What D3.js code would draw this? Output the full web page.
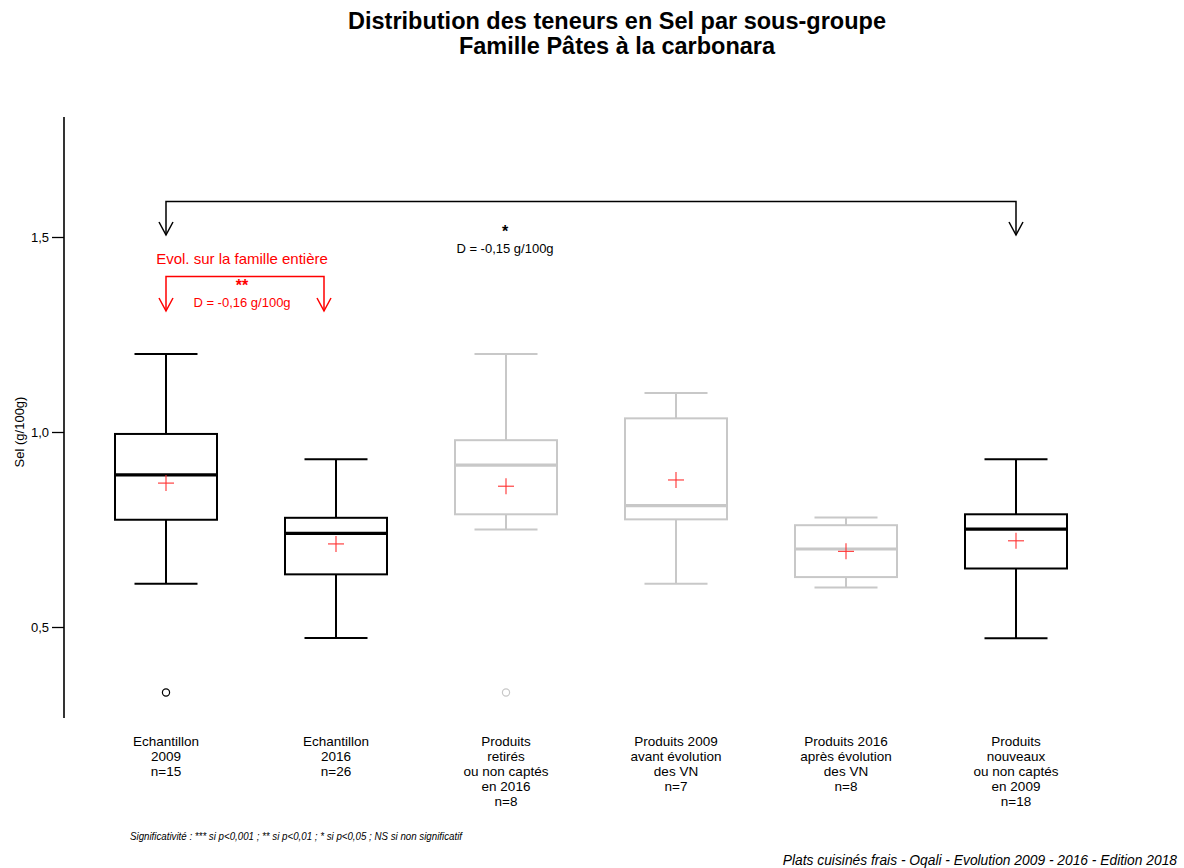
<!DOCTYPE html>
<html><head><meta charset="utf-8">
<script src="https://cdn.jsdelivr.net/npm/d3@7"></script>
<style>body{margin:0;background:#fff;} svg{display:block;font-family:"Liberation Sans",Arial,sans-serif;}</style>
</head><body>
<script>
const categories = [
  ["Echantillon","2009","n=15"],
  ["Echantillon","2016","n=26"],
  ["Produits","retirés","ou non captés","en 2016","n=8"],
  ["Produits 2009","avant évolution","des VN","n=7"],
  ["Produits 2016","après évolution","des VN","n=8"],
  ["Produits","nouveaux","ou non captés","en 2009","n=18"]
];
const whiskerLow  = [0.611, 0.472, 0.750, 0.611, 0.601, 0.471];
const q1          = [0.775, 0.635, 0.789, 0.776, 0.628, 0.650];
const median      = [0.890, 0.740, 0.915, 0.811, 0.700, 0.751];
const q3          = [0.995, 0.780, 0.979, 1.035, 0.761, 0.789];
const whiskerHigh = [1.200, 0.930, 1.200, 1.100, 0.781, 0.930];
const means       = [0.869, 0.713, 0.861, 0.877, 0.694, 0.721];
const outliers    = [[0.332], [], [0.332], [], [], []];
const highlighted = [true, true, false, false, false, true];
const yTicks = [0.5, 1.0, 1.5];

const W = 1184, H = 868;
const svg = d3.select("body").append("svg").attr("width", W).attr("height", H);

const y = d3.scaleLinear().domain([1.0, 1.5]).range([432, 237]);
const x = d3.scalePoint().domain(d3.range(6)).range([166, 1016]);

// title
svg.append("text").attr("x", 617).attr("y", 29).attr("text-anchor","middle")
  .attr("font-size", 23.5).attr("font-weight","bold").text("Distribution des teneurs en Sel par sous-groupe");
svg.append("text").attr("x", 617).attr("y", 54).attr("text-anchor","middle")
  .attr("font-size", 23.5).attr("font-weight","bold").text("Famille Pâtes à la carbonara");

// y axis
const yAxis = d3.axisLeft(y).tickValues(yTicks).tickSize(12).tickPadding(3)
  .tickFormat(d => d3.format(".1f")(d).replace(".", ","));
const gy = svg.append("g").attr("transform","translate(64,0)").call(yAxis);
gy.select(".domain").remove();
gy.selectAll(".tick line").attr("stroke","#000").attr("stroke-width",1.3);
gy.selectAll(".tick text").attr("font-size", 13).attr("font-family","Liberation Sans, Arial").attr("fill","#000");
svg.append("line").attr("x1",64).attr("x2",64).attr("y1",y(1.8077)).attr("y2",y(0.2667))
  .attr("stroke","#000").attr("stroke-width",1.6);
svg.append("text").attr("transform","translate(24,432) rotate(-90)").attr("text-anchor","middle")
  .attr("font-size",13).text("Sel (g/100g)");

// boxes
const boxW = 102, capW = 63;
categories.forEach((c, i) => {
  const cx = x(i);
  const col = highlighted[i] ? "#000" : "#c8c8c8";
  const g = svg.append("g");
  g.append("line").attr("x1",cx).attr("x2",cx).attr("y1",y(whiskerHigh[i])).attr("y2",y(q3[i])).attr("stroke",col).attr("stroke-width",2);
  g.append("line").attr("x1",cx).attr("x2",cx).attr("y1",y(q1[i])).attr("y2",y(whiskerLow[i])).attr("stroke",col).attr("stroke-width",2);
  g.append("line").attr("x1",cx-capW/2).attr("x2",cx+capW/2).attr("y1",y(whiskerHigh[i])).attr("y2",y(whiskerHigh[i])).attr("stroke",col).attr("stroke-width",2);
  g.append("line").attr("x1",cx-capW/2).attr("x2",cx+capW/2).attr("y1",y(whiskerLow[i])).attr("y2",y(whiskerLow[i])).attr("stroke",col).attr("stroke-width",2);
  g.append("rect").attr("x",cx-boxW/2).attr("width",boxW).attr("y",y(q3[i])).attr("height",y(q1[i])-y(q3[i]))
    .attr("fill","none").attr("stroke",col).attr("stroke-width",2);
  g.append("line").attr("x1",cx-boxW/2).attr("x2",cx+boxW/2).attr("y1",y(median[i])).attr("y2",y(median[i])).attr("stroke",col).attr("stroke-width",3.2);
  const my = y(means[i]);
  g.append("line").attr("x1",cx-8).attr("x2",cx+8).attr("y1",my).attr("y2",my).attr("stroke","#ff3030").attr("stroke-width",1.1);
  g.append("line").attr("x1",cx).attr("x2",cx).attr("y1",my-8).attr("y2",my+8).attr("stroke","#ff3030").attr("stroke-width",1.1);
  outliers[i].forEach(o => {
    g.append("circle").attr("cx",cx).attr("cy",y(o)).attr("r",3.6).attr("fill","none").attr("stroke",col).attr("stroke-width",1.2);
  });
  // x labels
  const t = svg.append("text").attr("text-anchor","middle").attr("font-size",13.5).attr("fill","#000");
  c.forEach((line, k) => t.append("tspan").attr("x", cx).attr("y", 746 + k*15).text(line));
});

// brackets
function bracket(x1, x2, yTop, yTip, col) {
  const g = svg.append("g").attr("stroke", col).attr("fill","none").attr("stroke-width",1.5);
  g.append("path").attr("d", `M${x1},${yTip} V${yTop} H${x2} V${yTip}`);
  [x1, x2].forEach(xx => g.append("path").attr("d", `M${xx-7},${yTip-13} L${xx},${yTip} L${xx+7},${yTip-13}`));
}
bracket(x(0), x(5), 201.5, 235, "#000");
bracket(x(0), 324, 276.5, 311, "#ff0000");

svg.append("text").attr("x",505).attr("y",237).attr("text-anchor","middle").attr("font-size",16).attr("font-weight","bold").text("*");
svg.append("text").attr("x",505).attr("y",252.5).attr("text-anchor","middle").attr("font-size",13).text("D = -0,15 g/100g");
svg.append("text").attr("x",242).attr("y",264).attr("text-anchor","middle").attr("font-size",15).attr("fill","#ff0000").text("Evol. sur la famille entière");
svg.append("text").attr("x",242).attr("y",291).attr("text-anchor","middle").attr("font-size",16).attr("font-weight","bold").attr("fill","#ff0000").text("**");
svg.append("text").attr("x",242).attr("y",306.5).attr("text-anchor","middle").attr("font-size",13).attr("fill","#ff0000").text("D = -0,16 g/100g");

// footnotes
svg.append("text").attr("x",130).attr("y",840).attr("font-size",11).attr("font-style","italic")
  .attr("textLength",332).attr("lengthAdjust","spacingAndGlyphs")
  .text("Significativité : *** si p<0,001 ; ** si p<0,01 ; * si p<0,05 ; NS si non significatif");
svg.append("text").attr("x",1177).attr("y",865).attr("text-anchor","end").attr("font-size",13.8).attr("font-style","italic")
  .text("Plats cuisinés frais - Oqali - Evolution 2009 - 2016 - Edition 2018");
</script>
</body></html>
